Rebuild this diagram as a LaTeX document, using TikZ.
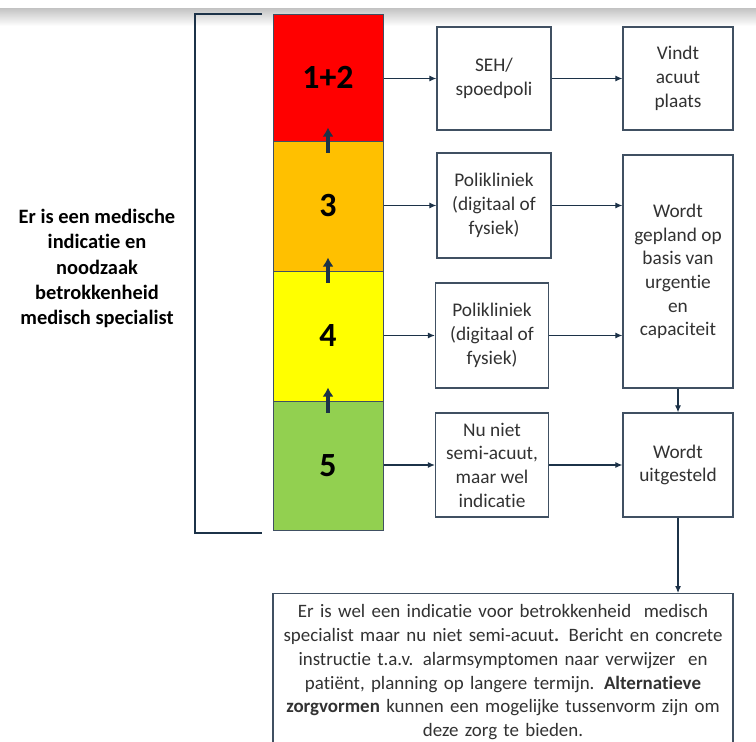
\documentclass[tikz,border=0pt]{standalone}
\usepackage{fontspec}
\setmainfont{Carlito}[Ligatures=NoCommon]
\usetikzlibrary{arrows.meta}
\definecolor{navy}{RGB}{28,50,72}
\definecolor{boxline}{RGB}{64,80,98}
\definecolor{txt}{RGB}{50,50,50}
\definecolor{cred}{RGB}{255,0,0}
\definecolor{corange}{RGB}{255,192,0}
\definecolor{cyellow}{RGB}{255,255,0}
\definecolor{cgreen}{RGB}{146,208,80}
\tikzset{
  seg/.style={draw=boxline, line width=1pt, minimum width=110bp, inner sep=0pt,
    font=\fontsize{34}{36}\selectfont\bfseries, text=black},
  flowbox/.style={draw=boxline, line width=1.3pt, fill=white, inner sep=0pt,
    align=center, text=txt, font=\fontsize{19.4}{23.8}\selectfont},
  conn/.style={draw=navy, line width=1.1pt, -{Latex[length=7bp,width=6bp]}},
  uparrow/.style={draw=navy, line width=3.2pt, -{Latex[length=9bp,width=11bp]}},
  bracket/.style={draw=navy, line width=2.6pt},
}
\begin{document}
\begin{tikzpicture}[x=1bp,y=-1bp]
\useasboundingbox (0,0) rectangle (756,742);
\fill[white] (0,0) rectangle (756,742);
\shade[top color=gray!45, bottom color=white] (0,9) rectangle (756,26);
\clip (0,0) rectangle (756,742);

% colour column
\node[seg, fill=cred,    minimum height=127bp] (red)    at (328,77.5)  {1+2};
\node[seg, fill=corange, minimum height=130bp] (orange) at (328,206)   {3};
\node[seg, fill=cyellow, minimum height=130bp] (yellow) at (328,336)   {4};
\node[seg, fill=cgreen,  minimum height=129bp] (green)  at (328,465.5) {5};

% up arrows
\draw[uparrow] ([yshift=-12bp]orange.north) -- ([yshift=13bp]orange.north);
\draw[uparrow] ([yshift=-12bp]yellow.north) -- ([yshift=13bp]yellow.north);
\draw[uparrow] ([yshift=-12bp]green.north) -- ([yshift=13bp]green.north);

% bracket
\draw[bracket] (262,14) -- (195,14) -- (195,533) -- (262,533);

% left text
\node[align=center, text=black, font=\fontsize{20.5}{25.5}\selectfont\bfseries] (lefttext) at (97,268.5)
  {Er is een medische\\indicatie en\\noodzaak\\betrokkenheid\\medisch specialist};

% middle boxes
\node[flowbox, minimum width=114bp, minimum height=103bp] (seh)   at (494,78.5) {SEH/\\spoedpoli};
\node[flowbox, minimum width=114bp, minimum height=105bp] (poli1) at (494,205.5) {Polikliniek\\(digitaal of\\fysiek)};
\node[flowbox, minimum width=113bp, minimum height=105bp] (poli2) at (492,335.5) {Polikliniek\\(digitaal of\\fysiek)};
\node[flowbox, minimum width=113bp, minimum height=104bp] (nuniet) at (492,465) {Nu niet\\semi-acuut,\\maar wel\\indicatie};

% right boxes
\node[flowbox, minimum width=110bp, minimum height=103bp] (vindt) at (678,78.5) {Vindt\\acuut\\plaats};
\node[flowbox, minimum width=110bp, minimum height=233bp] (gepland) at (678,271.5) {Wordt\\gepland op\\basis van\\urgentie\\en\\capaciteit};
\node[flowbox, minimum width=110bp, minimum height=104bp] (uitgesteld) at (678,465) {Wordt\\uitgesteld};

% bottom box
\node[flowbox, anchor=north, minimum width=460bp, minimum height=170bp] (bottom) at (503,593) {};
\node[anchor=north, inner sep=0pt, text width=460bp, align=center, text=txt,
      font=\fontsize{19}{24}\selectfont] (bottomtext) at ([yshift=-11bp]bottom.north)
  {Er is wel een indicatie voor betrokkenheid\ \ medisch\\
   specialist maar nu niet semi-acuut\textbf{.} Bericht en concrete\\
   instructie t.a.v. alarmsymptomen naar verwijzer\ \ en\\
   patiënt, planning op langere termijn. \textbf{Alternatieve}\\
   \textbf{zorgvormen} kunnen een mogelijke tussenvorm zijn om\\
   deze zorg te bieden.};

% connectors
\draw[conn] (red.east |- seh.west) -- (seh.west);
\draw[conn] (orange.east |- poli1.west) -- (poli1.west);
\draw[conn] (yellow.east |- poli2.west) -- (poli2.west);
\draw[conn] (green.east |- nuniet.west) -- (nuniet.west);
\draw[conn] (seh.east) -- (seh.east -| vindt.west);
\draw[conn] (poli1.east) -- (poli1.east -| gepland.west);
\draw[conn] (poli2.east) -- (poli2.east -| gepland.west);
\draw[conn] (nuniet.east) -- (nuniet.east -| uitgesteld.west);
\draw[conn] (gepland.south) -- (uitgesteld.north);
\draw[conn] (uitgesteld.south) -- (uitgesteld.south |- bottom.north);
\end{tikzpicture}
\end{document}
